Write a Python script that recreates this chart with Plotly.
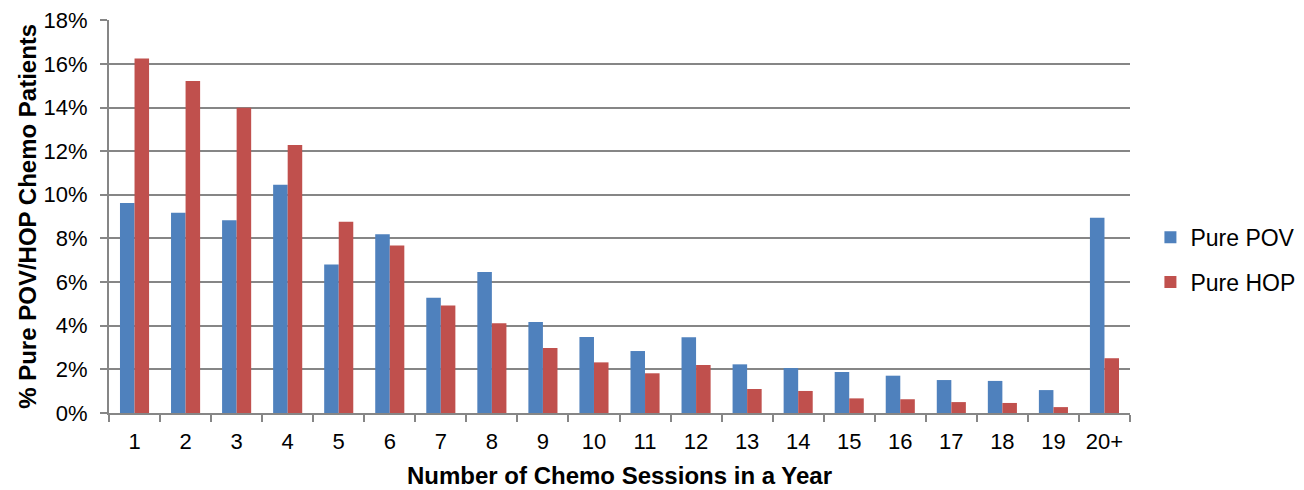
import plotly.graph_objects as go

# sessions per year
sessions = ["1", "2", "3", "4", "5", "6", "7", "8", "9", "10",
            "11", "12", "13", "14", "15", "16", "17", "18", "19", "20+"]
# % of patients (fractions)
pure_pov = [0.0962, 0.0918, 0.0883, 0.1046, 0.0680, 0.0819, 0.0528, 0.0646, 0.0417, 0.0348,
            0.0284, 0.0347, 0.0223, 0.0206, 0.0188, 0.0171, 0.0151, 0.0147, 0.0105, 0.0895]
pure_hop = [0.1624, 0.1521, 0.1399, 0.1228, 0.0877, 0.0768, 0.0493, 0.0411, 0.0298, 0.0232,
            0.0182, 0.0220, 0.0110, 0.0101, 0.0067, 0.0063, 0.0050, 0.0046, 0.0027, 0.0251]

FONT = "Liberation Sans, Arial, sans-serif"

fig = go.Figure()
fig.add_trace(go.Bar(x=sessions, y=pure_pov, name="Pure POV",
                     marker_color="#4F81BD", marker_line_width=0, legendgroup="a"))
fig.add_trace(go.Bar(x=sessions, y=pure_hop, name="Pure HOP",
                     marker_color="#C0504D", marker_line_width=0, legendgroup="b"))

fig.update_layout(
    width=1304, height=490,
    margin=dict(l=101, r=175, t=12, b=85),
    plot_bgcolor="white", paper_bgcolor="white",
    font=dict(family=FONT, size=23, color="black"),
    barmode="group", bargap=0.43, bargroupgap=0,
    legend=dict(x=1.02, y=0.39, xanchor="left", yanchor="middle",
                font=dict(size=23), traceorder="grouped", tracegroupgap=12,
                itemwidth=30),
)
fig.update_xaxes(
    type="category", showline=True, linecolor="#868686", linewidth=2,
    ticks="outside", tickson="boundaries", ticklen=7, tickcolor="#868686", tickwidth=2,
    tickfont=dict(size=22), automargin=False, ticklabelstandoff=8,
    title=dict(text="<b>Number of Chemo Sessions in a Year</b>", font=dict(size=24), standoff=14),
)
fig.update_yaxes(
    range=[0, 0.1801], dtick=0.02, tickformat=".0%",
    showgrid=True, gridcolor="#868686", gridwidth=1.5,
    showline=True, linecolor="#868686", linewidth=2,
    ticks="outside", ticklen=7, tickcolor="#868686", tickwidth=2,
    tickfont=dict(size=22), zeroline=False, automargin=False, ticklabelstandoff=8,
    ticklabeloverflow="allow",
)
# y title as annotation so it sits closer to the tick labels
fig.add_annotation(text="<b>% Pure POV/HOP Chemo Patients</b>", textangle=-90,
                   xref="paper", yref="paper", x=-0.08, y=0.5,
                   xanchor="center", yanchor="middle", showarrow=False,
                   font=dict(size=24))

fig.write_html("out.html")
